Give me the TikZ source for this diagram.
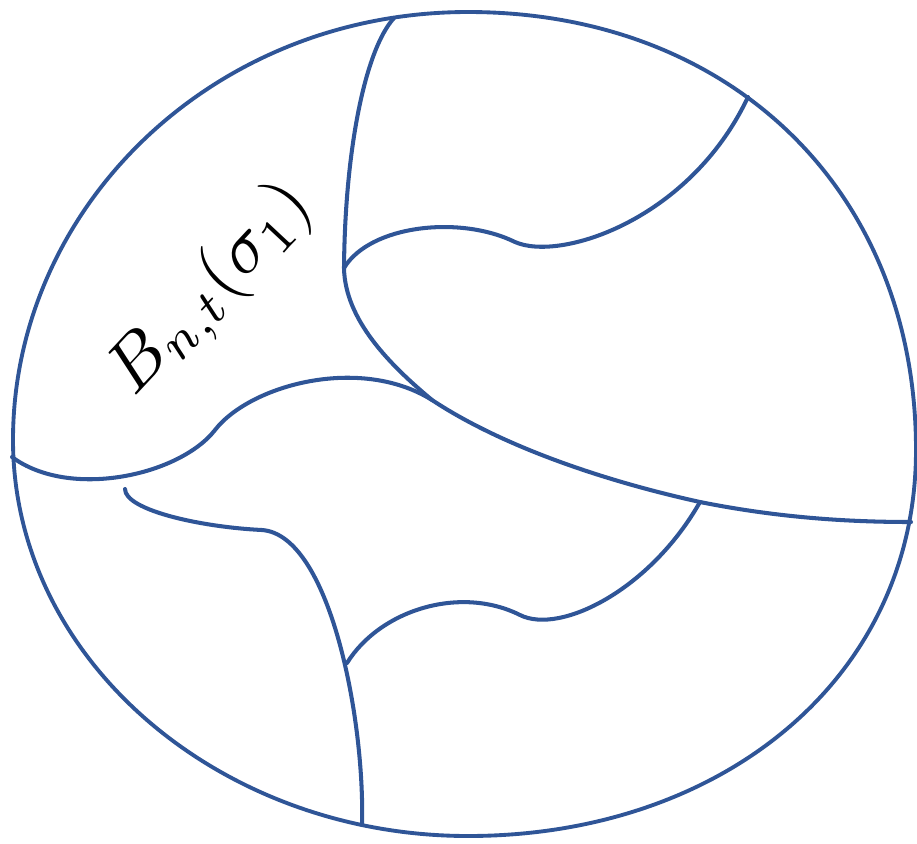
\documentclass[tikz,border=0pt]{standalone}
\usepackage{amsmath}
\definecolor{seamblue}{HTML}{2F5597}
\begin{document}
\begin{tikzpicture}[x=0.02cm, y=-0.02cm, line cap=round, line join=round,
    rim/.style={draw=seamblue, line width=2.2pt},
    seam/.style={draw=seamblue, line width=2.3pt},
    tag/.style={inner sep=0pt, outer sep=0pt, rotate=47, scale=4.1}]
  \useasboundingbox (0,0) rectangle (917,843);
  % the rim
  \coordinate (rT) at (468,12);
  \coordinate (rR) at (916,450);
  \coordinate (rB) at (468,836);
  \coordinate (rL) at (13,440);
  \draw[rim] (rT) .. controls (730,12) and (916,190) .. (rR)
    .. controls (916,680) and (720,836) .. (rB)
    .. controls (220,836) and (13,660) .. (rL)
    .. controls (13,210) and (210,12) .. (rT) -- cycle;
  % ends on the rim
  \coordinate (vT) at (394,18);
  \coordinate (vNE) at (748,97);
  \coordinate (vE) at (911,522);
  \coordinate (vB) at (362,825);
  \coordinate (vW) at (12,457);
  % inner meeting points and free ends
  \coordinate (jA) at (344,268);
  \coordinate (jB) at (432,400);
  \coordinate (jD) at (700,502);
  \coordinate (hC) at (125,489);
  \coordinate (hD) at (347,663);
  \draw[seam] (vT) .. controls (365,50) and (345,150) .. (jA);
  \draw[seam] (jA) .. controls (345,320) and (390,365) .. (jB)
    .. controls (500,445) and (600,480) .. (jD)
    .. controls (780,518) and (850,522) .. (vE);
  \draw[seam] (jA) .. controls (370,225) and (460,215) .. (515,242)
    .. controls (560,262) and (690,220) .. (vNE);
  \draw[seam] (vW) .. controls (70,500) and (180,475) .. (215,430)
    .. controls (250,385) and (360,355) .. (jB);
  \draw[seam] (hC) .. controls (125,510) and (200,527) .. (262,530)
    .. controls (330,535) and (365,720) .. (vB);
  \draw[seam] (hD) .. controls (380,610) and (460,585) .. (520,615)
    .. controls (560,635) and (650,590) .. (jD);
  \node[tag] (lbl) at (212,290) {$B_{n,t}(\sigma_1)$};
\end{tikzpicture}
\end{document}
